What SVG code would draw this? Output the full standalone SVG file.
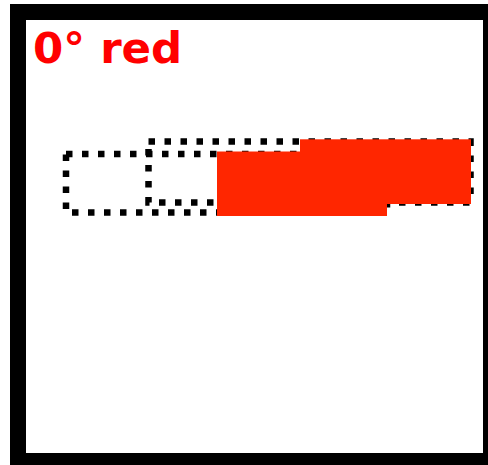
<svg xmlns="http://www.w3.org/2000/svg" width="488" height="465" viewBox="0 0 488 465">
  <style>
    .frame { fill: #ffffff; stroke: #000000; stroke-width: 16; }
    .dotted { fill: none; stroke: #000000; stroke-width: 6.5; stroke-dasharray: 6.5 9.5; }
    .redfill { fill: #ff2600; stroke: none; }
    .title { font-family: "DejaVu Sans", Verdana, sans-serif; font-weight: bold; font-size: 43.5px; fill: #ff0000; }
  </style>
  <rect x="0" y="0" width="488" height="465" fill="#ffffff"/>
  <g id="frame">
    <rect class="frame" x="18" y="12" width="473" height="449"/>
  </g>
  <g id="title">
    <text class="title" x="33" y="63">0° red</text>
  </g>
  <g id="rect-a">
    <rect class="dotted" x="66" y="154" width="321" height="58.5"/>
  </g>
  <g id="rect-b">
    <rect class="dotted" x="148.5" y="141.5" width="322" height="61"/>
  </g>
  <g id="red-a">
    <rect class="redfill" x="217" y="151.5" width="170" height="64.5"/>
  </g>
  <g id="red-b">
    <rect class="redfill" x="300" y="139.3" width="171" height="64.7"/>
  </g>
  <g id="connectors"></g>
</svg>
